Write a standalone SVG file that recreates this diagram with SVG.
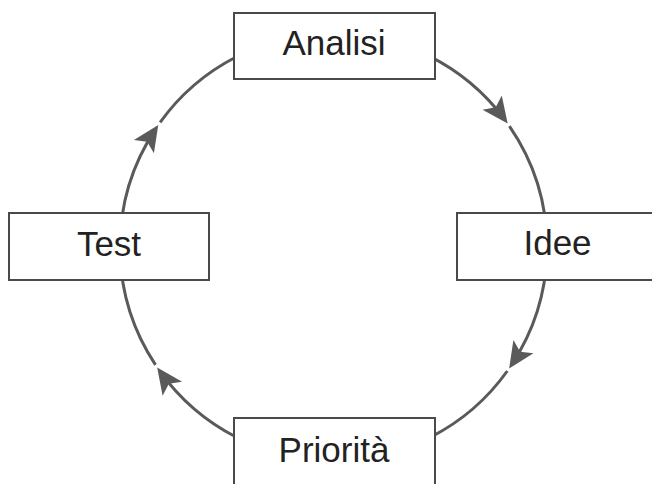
<svg xmlns="http://www.w3.org/2000/svg" width="652" height="484" viewBox="0 0 652 484">
<style>
  .box { fill: #ffffff; stroke: #4a4a4a; stroke-width: 2; }
  .lbl { font-family: "Liberation Sans", Arial, sans-serif; font-size: 35px; fill: #222222; text-anchor: middle; }
  .arc { fill: none; stroke: #5a5a5a; stroke-width: 3; }
</style>
<defs>
  <marker id="arrow" markerUnits="userSpaceOnUse" markerWidth="40" markerHeight="40" viewBox="-30 -20 40 40" refX="0" refY="0" orient="auto">
    <path d="M5,0 L-21,-12 L-15,0 L-21,12 Z" fill="#5a5a5a"/>
  </marker>
</defs>
<rect width="652" height="484" fill="#ffffff"/>
<g id="connectors">
  <g id="analisi-idee">
    <path class="arc" d="M333.5,33.5 A213.5,213.5 0 0 1 504.7,119.4" marker-end="url(#arrow)"/>
    <path class="arc" d="M509.4,126.1 A213.5,213.5 0 0 1 547,247"/>
  </g>
  <g id="idee-priorita">
    <path class="arc" d="M547,247 A213.5,213.5 0 0 1 511.9,364.2" marker-end="url(#arrow)"/>
    <path class="arc" d="M507.3,371.0 A213.5,213.5 0 0 1 333.5,460.5"/>
  </g>
  <g id="priorita-test">
    <path class="arc" d="M333.5,460.5 A213.5,213.5 0 0 1 160.1,371.6" marker-end="url(#arrow)"/>
    <path class="arc" d="M155.5,364.8 A213.5,213.5 0 0 1 120,247"/>
  </g>
  <g id="test-analisi">
    <path class="arc" d="M120,247 A213.5,213.5 0 0 1 155.5,129.2" marker-end="url(#arrow)"/>
    <path class="arc" d="M160.1,122.4 A213.5,213.5 0 0 1 333.5,33.5"/>
  </g>
</g>
<g id="analisi">
  <rect class="box" x="234" y="13" width="201" height="66"/>
  <text class="lbl" x="334" y="55">Analisi</text>
</g>
<g id="idee">
  <rect class="box" x="457" y="213" width="200" height="67"/>
  <text class="lbl" x="557.5" y="255">Idee</text>
</g>
<g id="test">
  <rect class="box" x="9" y="213" width="200" height="67"/>
  <text class="lbl" x="109" y="256">Test</text>
</g>
<g id="priorita">
  <rect class="box" x="234" y="418" width="201" height="80"/>
  <text class="lbl" x="334" y="462">Priorità</text>
</g>
</svg>
